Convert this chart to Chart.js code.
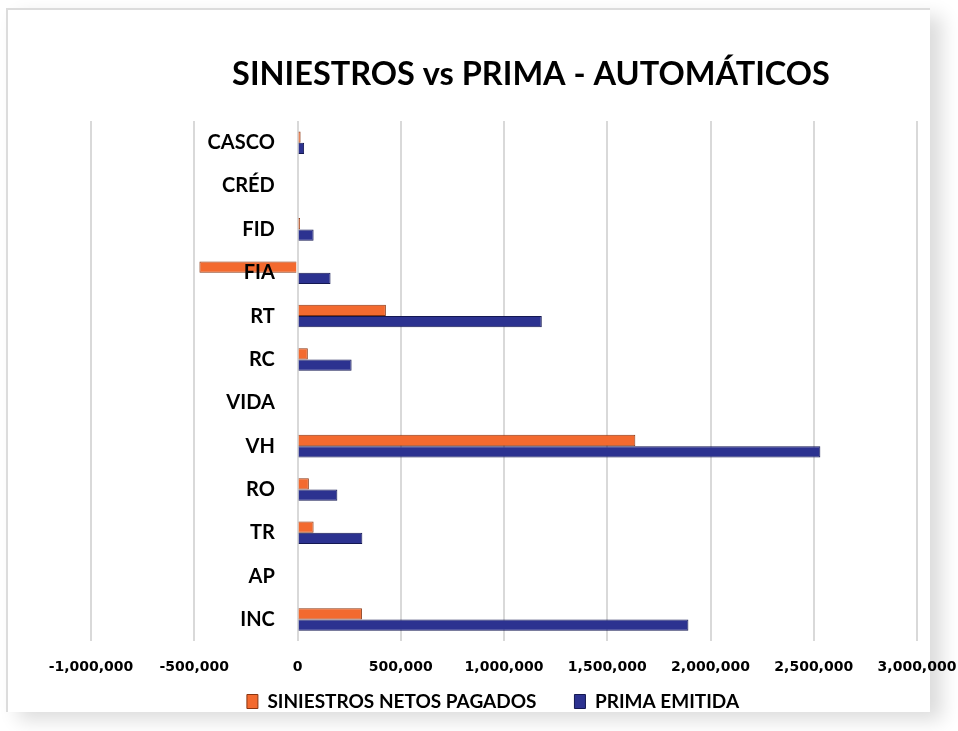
<!DOCTYPE html>
<html>
<head>
<meta charset="utf-8">
<script src="https://cdn.jsdelivr.net/npm/chart.js@4.4.1/dist/chart.umd.min.js"></script>
<style>
  html, body { margin: 0; padding: 0; background: #ffffff; }
  body { width: 958px; height: 731px; position: relative; overflow: hidden; }
  #frame {
    position: absolute; left: 6px; top: 8px; width: 922px; height: 702px;
    border-top: 2px solid #dcdcdc; border-left: 2px solid #dcdcdc;
    box-shadow: 12px 8px 18px rgba(0,0,0,0.14);
    background: #ffffff;
  }
  #wrap { position: absolute; left: 0; top: 0; width: 958px; height: 731px; }
</style>
</head>
<body>
<div id="frame"></div>
<div id="wrap"><canvas id="c" width="958" height="731"></canvas></div>
<script>
const categories = ['CASCO', 'CRÉD', 'FID', 'FIA', 'RT', 'RC', 'VIDA', 'VH', 'RO', 'TR', 'AP', 'INC'];
const siniestrosNetosPagados = [15000, 0, 12000, -475000, 428000, 50000, 0, 1636000, 55000, 78000, 0, 312000];
const primaEmitida = [32000, 0, 78000, 160000, 1183000, 262000, 0, 2532000, 193000, 314000, 0, 1893000];
const seriesNames = ['SINIESTROS NETOS PAGADOS', 'PRIMA EMITIDA'];
const xTickMin = -1000000;
const xTickMax = 3000000;
const xTickStep = 500000;
const chartTitle = 'SINIESTROS vs PRIMA - AUTOMÁTICOS';

// layout tweaks: title offset to the right, wider legend item spacing
const layoutTweaks = {
  id: 'layoutTweaks',
  afterLayout(chart) {
    if (chart.titleBlock) {
      chart.titleBlock.left += 54;
    }
    const lg = chart.legend;
    if (lg && lg.options && lg.options.labels) {
      lg.options.labels.padding = 38;
      lg.top -= 40;
      lg.left -= 82;
    }
  }
};

new Chart(document.getElementById('c'), {
  type: 'bar',
  data: {
    labels: categories,
    datasets: [
      {
        label: seriesNames[0],
        data: siniestrosNetosPagados,
        backgroundColor: '#F36A2F',
        borderColor: '#8A3510',
        borderWidth: 1,
        barPercentage: 1.0,
        categoryPercentage: 0.52
      },
      {
        label: seriesNames[1],
        data: primaEmitida,
        backgroundColor: '#2C3290',
        borderColor: '#141852',
        borderWidth: 1,
        barPercentage: 1.0,
        categoryPercentage: 0.52
      }
    ]
  },
  plugins: [layoutTweaks],
  options: {
    indexAxis: 'y',
    responsive: false,
    animation: false,
    layout: { padding: { left: 91, right: 41, top: 55, bottom: 0 } },
    plugins: {
      title: {
        display: true,
        text: chartTitle,
        color: '#000000',
        font: { family: 'Lato', size: 32.5, weight: 'bold' },
        padding: { top: 0, bottom: 27 }
      },
      legend: {
        position: 'bottom',
        labels: {
          color: '#000000',
          font: { family: 'Lato', size: 19, weight: 'bold' },
          boxWidth: 11,
          boxHeight: 14,
          padding: 8
        }
      },
      tooltip: { enabled: false }
    },
    scales: {
      x: {
        min: xTickMin,
        max: xTickMax,
        afterFit: (s) => { s.paddingRight = 0; s.paddingLeft = 0; },
        ticks: {
          stepSize: xTickStep,
          color: '#000000',
          font: { family: 'DejaVu Sans', size: 14, weight: 'bold' },
          padding: 18,
          maxRotation: 0,
          callback: (v) => Number(v).toLocaleString('en-US')
        },
        grid: { color: '#D9D9D9', lineWidth: 2, drawTicks: false },
        border: { display: false }
      },
      y: {
        position: { x: -110000 },
        grid: { display: false },
        border: { display: false },
        ticks: {
          z: 1,
          color: '#000000',
          font: { family: 'Lato', size: 20, weight: 'bold' }
        }
      }
    }
  }
});
</script>
</body>
</html>
